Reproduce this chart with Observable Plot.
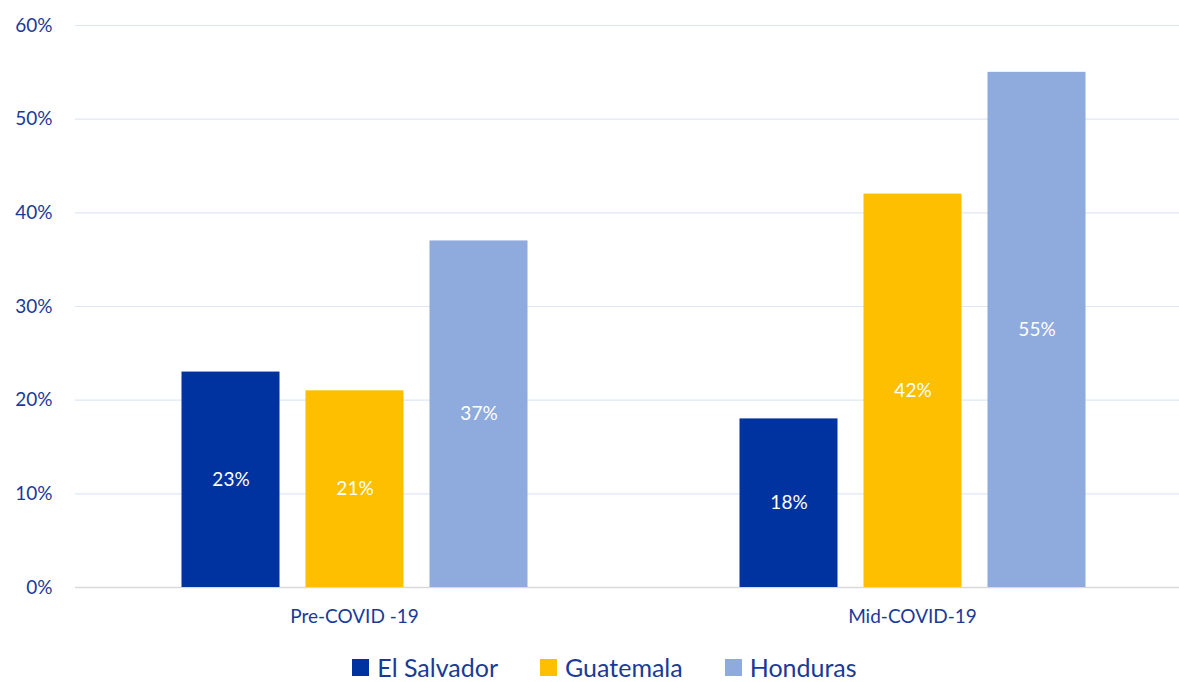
<!DOCTYPE html>
<html>
<head>
<meta charset="utf-8">
<script src="https://cdn.jsdelivr.net/npm/d3@7"></script>
<script src="https://cdn.jsdelivr.net/npm/@observablehq/plot@0.6"></script>
<style>
  html, body { margin: 0; padding: 0; background: #fff; }
  body { width: 1179px; height: 682px; overflow: hidden; font-family: Lato, "Open Sans", sans-serif; }
  #legend { display: flex; justify-content: center; gap: 42px; margin-top: 12px; font-size: 25px; color: #1a3a9a; margin-left: 30px; }
  .item { display: flex; align-items: center; gap: 8px; }
  .sw { width: 17px; height: 17px; display: inline-block; }
</style>
</head>
<body>
<div id="chart"></div>
<div id="legend"></div>
<script>
const periods = ["Pre-COVID -19", "Mid-COVID-19"];
const countries = ["El Salvador", "Guatemala", "Honduras"];
const colors = ["#0033a0", "#fdbf00", "#8faadc"];
const elSalvador = [23, 18];
const guatemala = [21, 42];
const honduras = [37, 55];
const yTicks = [0, 10, 20, 30, 40, 50, 60];

const series = [elSalvador, guatemala, honduras];
const data = [];
periods.forEach((p, i) => countries.forEach((c, j) => data.push({period: p, country: c, value: series[j][i]})));

const textColor = "#1a3a9a";
const chart = Plot.plot({
  width: 1179,
  height: 640,
  marginTop: 25,
  marginBottom: 53,
  marginLeft: 74.5,
  marginRight: 0,
  style: {fontFamily: "Lato, 'Open Sans', sans-serif", fontSize: "19px", color: textColor, overflow: "hidden"},
  fx: {domain: periods, range: [74.5, 1190.5], padding: 0, label: null, tickSize: 0, tickPadding: 22, axis: "bottom"},
  x: {domain: countries, paddingInner: 0.21, paddingOuter: 0.855, axis: null},
  y: {domain: [0, 60], ticks: yTicks, tickFormat: d => d + "%", tickSize: 0, tickPadding: 23, label: null},
  color: {domain: countries, range: colors},
  marks: [
    Plot.ruleY(yTicks.filter(d => d > 0), {stroke: "#dde7f3", strokeWidth: 1.2}),
    Plot.ruleY([0], {stroke: "#d9d9d9", strokeWidth: 1.5}),
    Plot.barY(data, {fx: "period", x: "country", y: "value", fill: "country"}),
    Plot.text(data, {fx: "period", x: "country", y: d => d.value / 2, text: d => d.value + "%", fill: "white", fontSize: 19})
  ]
});
document.getElementById("chart").appendChild(chart);

const legend = document.getElementById("legend");
countries.forEach((c, i) => {
  const it = document.createElement("div");
  it.className = "item";
  it.innerHTML = `<span class="sw" style="background:${colors[i]}"></span><span>${c}</span>`;
  legend.appendChild(it);
});
</script>
</body>
</html>
